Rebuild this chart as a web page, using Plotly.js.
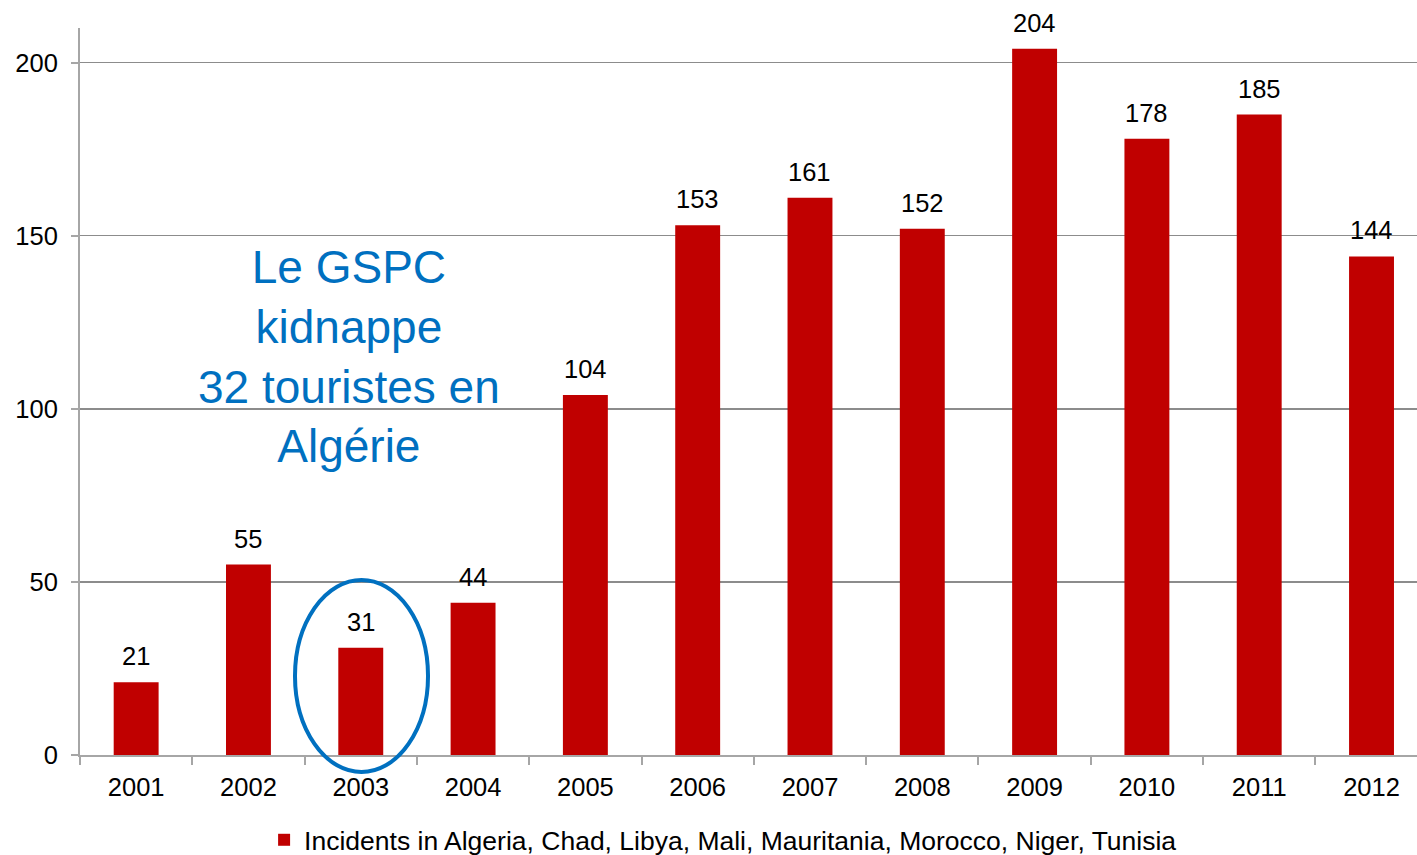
<!DOCTYPE html>
<html>
<head>
<meta charset="utf-8">
<script src="https://cdn.plot.ly/plotly-3.0.1.min.js"></script>
<style>html,body{margin:0;padding:0;background:#fff;}#chart{width:1417px;height:855px;}</style>
</head>
<body>
<div id="chart"></div>
<script>
const years = ['2001','2002','2003','2004','2005','2006','2007','2008','2009','2010','2011','2012'];
const incidents = [21, 55, 31, 44, 104, 153, 161, 152, 204, 178, 185, 144];
const seriesName = 'Incidents in Algeria, Chad, Libya, Mali, Mauritania, Morocco, Niger, Tunisia';
const yTicks = [0, 50, 100, 150, 200];
const noteText = 'Le GSPC<br>kidnappe<br>32 touristes en<br>Algérie';

const FONT = 'Liberation Sans, Arial, sans-serif';

const trace = {
  type: 'bar',
  x: years,
  y: incidents,
  name: seriesName,
  marker: {color: '#C00000'},
  hoverinfo: 'x+y'
};

const labelAnnotations = years.map((yr, i) => ({
  x: i, y: incidents[i], xref: 'x', yref: 'y',
  text: String(incidents[i]), showarrow: false,
  yanchor: 'bottom', yshift: 10,
  font: {family: FONT, size: 25.5, color: '#000'}
}));

const layout = {
  width: 1417, height: 855,
  margin: {l: 80, r: 0, t: 28, b: 100, autoexpand: false},
  paper_bgcolor: '#fff', plot_bgcolor: '#fff',
  font: {family: FONT, size: 25.5, color: '#000'},
  bargap: 0.6,
  showlegend: true,
  legend: {
    orientation: 'h', x: 0.481, xanchor: 'center', y: -0.117, yanchor: 'middle',
    font: {family: FONT, size: 26.5, color: '#000'}
  },
  xaxis: {
    type: 'category',
    range: [-0.5, 11.405],
    showline: true, linecolor: '#a6a6a6', linewidth: 2,
    ticks: 'outside', tickson: 'boundaries', ticklen: 8, tickcolor: '#a6a6a6', tickwidth: 2,
    showgrid: false,
    ticklabelstandoff: 8,
    tickfont: {family: FONT, size: 25.5, color: '#000'}
  },
  yaxis: {
    range: [0, 210],
    tickvals: yTicks, ticktext: yTicks.map(String),
    showline: true, linecolor: '#a6a6a6', linewidth: 2,
    ticks: 'outside', ticklen: 7, tickcolor: '#a6a6a6', tickwidth: 2,
    showgrid: true, gridcolor: '#8c8c8c', gridwidth: 1.5,
    zeroline: false,
    ticklabelstandoff: 8,
    tickfont: {family: FONT, size: 25.5, color: '#000'}
  },
  annotations: labelAnnotations.concat([{
    x: 1.895, y: 115, xref: 'x', yref: 'y',
    text: noteText, showarrow: false, align: 'center',
    xanchor: 'center', yanchor: 'middle',
    font: {family: FONT, size: 46, color: '#0070C0'}
  }]),
  shapes: [{
    type: 'circle', xref: 'paper', yref: 'paper',
    x0: 0.1608, x1: 0.2603, y0: -0.0234, y1: 0.2407,
    line: {color: '#0070C0', width: 4}
  }]
};

Plotly.newPlot('chart', [trace], layout, {displayModeBar: false, staticPlot: true});
</script>
</body>
</html>
